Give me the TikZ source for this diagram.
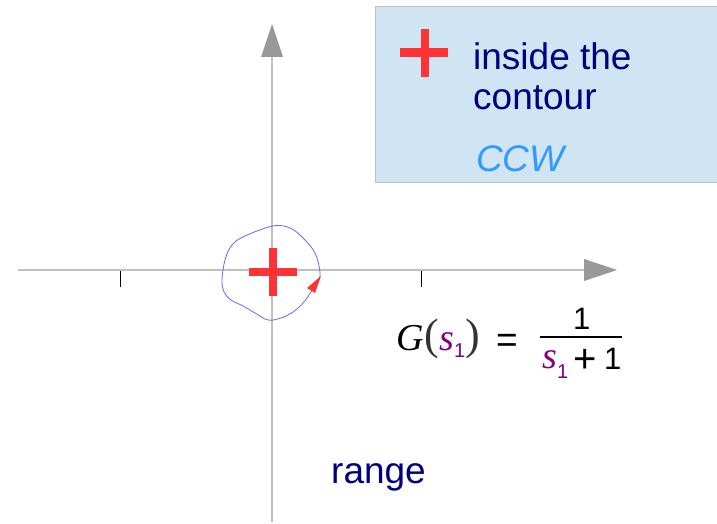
\documentclass[tikz,border=0pt]{standalone}
\usepackage{fontspec}
\setmainfont{Liberation Sans}
\newfontfamily\serifit{Liberation Serif}[ItalicFont={Liberation Serif Italic}]
\definecolor{navy}{HTML}{000080}
\definecolor{ccwblue}{HTML}{3399FF}
\definecolor{boxfill}{HTML}{CFE5F3}
\definecolor{boxline}{HTML}{C0C0C0}
\definecolor{plusred}{HTML}{FF3333}
\definecolor{axisgray}{HTML}{C0C0C0}
\definecolor{tipgray}{HTML}{999999}
\definecolor{contour}{HTML}{6666FF}
\definecolor{varpurple}{HTML}{800080}
\tikzset{
  axisline/.style={draw=axisgray, line width=2pt},
  axistip/.style={fill=tipgray, draw=none},
  tickline/.style={draw=black, line width=1pt},
  plusbar/.style={fill=plusred, draw=none},
  lbl/.style={inner sep=0pt, anchor=base west, text=navy, font=\fontsize{37}{40}\selectfont},
  mth/.style={inner sep=0pt, anchor=base west},
}
\begin{document}
\begin{tikzpicture}[x=1pt,y=-1pt]
\useasboundingbox (0,0) rectangle (717,524);
% info box
\path[fill=boxfill, draw=boxline, line width=1pt] (375,7) rectangle (722,182);
% axes
\draw[axisline] (18,270) -- (586,270);
\path[axistip] (584,259) -- (617,270) -- (584,281) -- cycle;
\draw[axisline] (272,522) -- (272,56);
\path[axistip] (261,57) -- (272,24) -- (283,57) -- cycle;
% ticks
\draw[tickline] (120,271) -- (120,287);
\draw[tickline] (421,271) -- (421,287);
% contour
\draw[contour, line width=0.8pt] plot[smooth cycle, tension=0.6] coordinates {
 (320,272) (315,253) (303,238) (290,228) (273,226) (245,236) (232,245)
 (225,260) (222,280) (224,292) (231,300) (243,306) (255,313) (268,320)
 (281,318) (293,312) (303,303) (311,292) (318,281)};
\path[fill=plusred] (321,276) -- (307,288) -- (315,293) -- cycle;
% center plus
\path[plusbar] (249,268) rectangle (297,276);
\path[plusbar] (269,248) rectangle (277,296);
% box plus
\path[plusbar] (400,48) rectangle (448,57);
\path[plusbar] (421,29) rectangle (429,77);
% box text
\node[lbl] (t1) at (473,70) {inside the};
\node[lbl] (t2) at (473,110) {contour};
\node[lbl, text=ccwblue] (t3) at (476,171) {\itshape CCW};
\node[lbl] (rng) at (331,483) {range};
% formula
\node[mth, font=\serifit\fontsize{38}{40}\selectfont\itshape] (G) at (396,350) {G};
\node[mth, font=\serifit\fontsize{44}{46}\selectfont, text=black!80] (lp) at (424,349) {(};
\node[mth, font=\serifit\fontsize{38}{40}\selectfont\itshape, text=varpurple] (s1) at (439,350) {s};
\node[mth, font=\fontsize{20}{22}\selectfont, text=varpurple] (sub1) at (454,357) {1};
\node[mth, font=\serifit\fontsize{44}{46}\selectfont, text=black!80] (rp) at (465,349) {)};
\node[mth, font=\fontsize{37}{40}\selectfont] (eq) at (496,352) {=};
\node[mth, font=\fontsize{31}{33}\selectfont] (num) at (573,329) {1};
\coordinate (barL) at (540,337);
\coordinate (barR) at (622,337);
\draw[line width=2pt] (barL) -- (barR);
\node[mth, font=\serifit\fontsize{38}{40}\selectfont\itshape, text=varpurple] (s2) at (542,368) {s};
\node[mth, font=\fontsize{20}{22}\selectfont, text=varpurple] (sub2) at (557,378) {1};
\node[inner sep=0pt, anchor=base, font=\fontsize{40}{44}\selectfont] (plus) at (585,372) {+};
\node[mth, font=\fontsize{31}{33}\selectfont] (den) at (604,369) {1};
\end{tikzpicture}
\end{document}
